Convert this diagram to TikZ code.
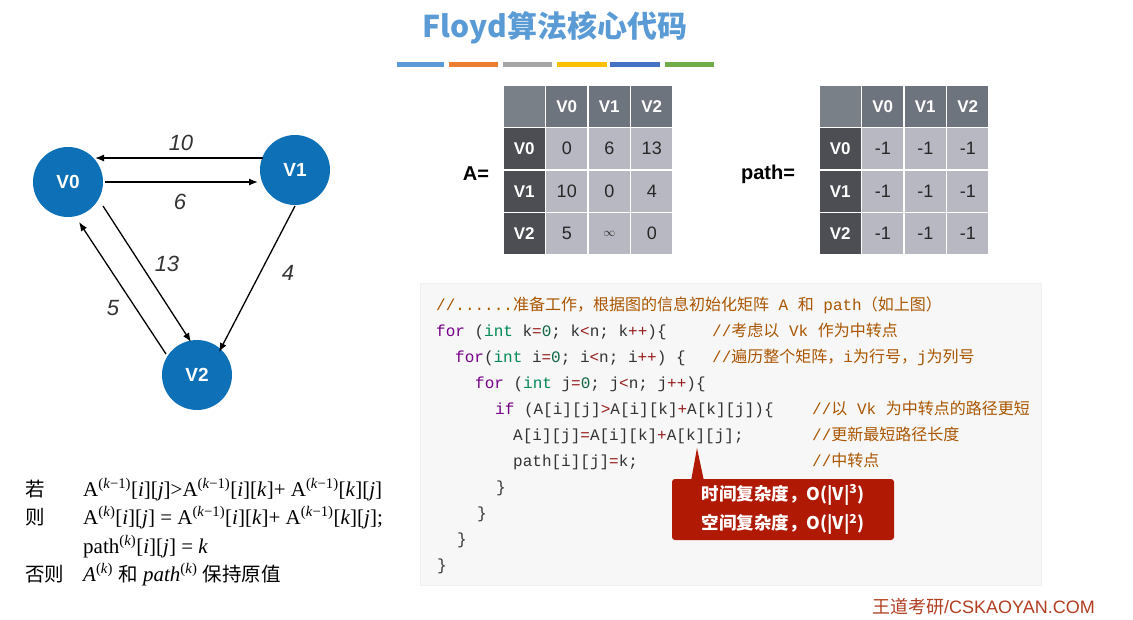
\documentclass[tikz,border=0pt]{standalone}
\usepackage{fontspec}
\setmainfont{Liberation Sans}
\newfontfamily\cjk{Noto Sans CJK SC}
\newfontfamily\mono{Liberation Mono}
\newfontfamily\serifrm{Liberation Serif}
\usetikzlibrary{arrows.meta,calc}
\definecolor{titleblue}{RGB}{91,155,213}
\definecolor{barA}{RGB}{91,155,213}
\definecolor{barB}{RGB}{237,125,49}
\definecolor{barC}{RGB}{165,165,165}
\definecolor{barD}{RGB}{255,192,0}
\definecolor{barE}{RGB}{68,114,196}
\definecolor{barF}{RGB}{112,173,71}
\definecolor{nodeblue}{RGB}{14,112,182}
\definecolor{cornerc}{RGB}{122,128,136}
\definecolor{hdrc}{RGB}{110,116,126}
\definecolor{rowc}{RGB}{76,78,84}
\definecolor{bodyc}{RGB}{184,184,195}
\definecolor{codebg}{RGB}{247,247,247}
\definecolor{codetx}{RGB}{51,51,51}
\definecolor{kwc}{RGB}{119,0,136}
\definecolor{tyc}{RGB}{0,136,85}
\definecolor{nmc}{RGB}{17,102,68}
\definecolor{opc}{RGB}{152,26,26}
\definecolor{cmt}{RGB}{170,85,0}
\definecolor{callred}{RGB}{176,26,4}
\definecolor{footc}{RGB}{178,62,34}
\newcommand\setfs[1]{\fontsize{#1}{#1}\selectfont}
\newcommand\zh[1]{{\cjk #1}}
\newcommand\kw[1]{\textcolor{kwc}{#1}}
\newcommand\ty[1]{\textcolor{tyc}{#1}}
\newcommand\nm[1]{\textcolor{nmc}{#1}}
\newcommand\op[1]{\textcolor{opc}{#1}}
\newcommand\sups[1]{\textsuperscript{(#1)}}
\tikzset{
  vert/.style={circle, fill=nodeblue, minimum size=70pt, inner sep=0pt, text=white, font=\bfseries\setfs{19}},
  arr/.style={draw=black, line width=1.3pt, -{Latex[length=9pt,width=7pt]}},
  elabel/.style={font=\itshape\setfs{22}, text=black!80},
  cellbase/.style={minimum width=41pt, minimum height=41pt, inner sep=0pt},
  ccell/.style={cellbase, fill=cornerc},
  hcell/.style={cellbase, fill=hdrc, text=white, font=\bfseries\setfs{17}},
  rcell/.style={cellbase, fill=rowc, text=white, font=\bfseries\setfs{17}},
  bcell/.style={cellbase, fill=bodyc, text=black!85, font=\setfs{18}},
  eqlabel/.style={font=\bfseries\setfs{20}, text=black},
  code/.style={anchor=base west, inner sep=0pt, font=\mono\setfs{16}, text=codetx},
  cmtline/.style={code, text=cmt},
  fml/.style={anchor=base west, inner sep=0pt, font=\serifrm\setfs{21}, text=black},
  fmlzh/.style={anchor=base west, inner sep=0pt, font=\cjk\setfs{19.5}, text=black},
}
\begin{document}
\begin{tikzpicture}[x=1pt,y=-1pt]
\useasboundingbox (0,0) rectangle (1133,619);
\fill[white] (0,0) rectangle (1133,619);

% title
\node[font=\cjk\bfseries\setfs{30}, text=titleblue] (title) at (555,28) {Floyd算法核心代码};
\fill[barA] (397,62) rectangle (444,67);
\fill[barB] (449,62) rectangle (498,67);
\fill[barC] (503,62) rectangle (552,67);
\fill[barD] (557,62) rectangle (607,67);
\fill[barE] (610,62) rectangle (660,67);
\fill[barF] (665,62) rectangle (714,67);

% graph
\node[vert] (V0) at (68,182) {V0};
\node[vert] (V1) at (295,170) {V1};
\node[vert] (V2) at (197,375) {V2};
\draw[arr] ($(V1)+(-32,-12)$) -- ($(V0)+(27,-24)$);
\draw[arr] ($(V0)+(37,0)$) -- ($(V1)+(-37,12)$);
\draw[arr] ($(V0)+(35,24)$) -- ($(V2)+(-6,-33)$);
\draw[arr] ($(V2)+(-31,-21)$) -- ($(V0)+(11,40)$);
\draw[arr] ($(V1)+(0,36)$) -- ($(V2)+(22,-23)$);
\node[elabel] (l10) at (181,143) {10};
\node[elabel] (l6) at (180,202) {6};
\node[elabel] (l13) at (167,264) {13};
\node[elabel] (l5) at (113,308) {5};
\node[elabel] (l4) at (288,273) {4};

% matrix A
\node[eqlabel] (Aeq) at (476,174) {A=};
\node[ccell] (A-00) at (524.25,106.25) {};
\foreach \lab [count=\i] in {V0,V1,V2} {
  \node[hcell] (A-h\i) at ({524.25+42.5*\i},106.25) {\lab};
  \node[rcell] (A-r\i) at (524.25,{106.25+42.5*\i}) {\lab};
}
\foreach \v [count=\k from 0] in {0,6,13,10,0,4,5,{{\setfs{13}$\infty$}},0} {
  \pgfmathtruncatemacro\rr{int(\k/3)+1}
  \pgfmathtruncatemacro\cc{mod(\k,3)+1}
  \node[bcell] (A-\rr-\cc) at ({524.25+42.5*\cc},{106.25+42.5*\rr}) {\v};
}

% matrix path
\node[eqlabel] (Peq) at (768,174) {path=};
\node[ccell] (P-00) at (840.25,106.25) {};
\foreach \lab [count=\i] in {V0,V1,V2} {
  \node[hcell] (P-h\i) at ({840.25+42.5*\i},106.25) {\lab};
  \node[rcell] (P-r\i) at (840.25,{106.25+42.5*\i}) {\lab};
}
\foreach \k in {0,...,8} {
  \pgfmathtruncatemacro\rr{int(\k/3)+1}
  \pgfmathtruncatemacro\cc{mod(\k,3)+1}
  \node[bcell] (P-\rr-\cc) at ({840.25+42.5*\cc},{106.25+42.5*\rr}) {-1};
}

% code block
\fill[codebg] (420,283) rectangle (1041,585);
\draw[black!6] (420,283) rectangle (1041,585);
\node[cmtline] (c1) at (436,310) {//......\zh{准备工作，根据图的信息初始化矩阵} A \zh{和} path\zh{（如上图）}};
\node[code] (c2) at (436,336) {\kw{for} (\ty{int} k\op{=}\nm{0}; k\op{<}n; k\op{++})\{};
\node[cmtline] (m2) at (712,336) {//\zh{考虑以} Vk \zh{作为中转点}};
\node[code] (c3) at (455,362) {\kw{for}(\ty{int} i\op{=}\nm{0}; i\op{<}n; i\op{++}) \{};
\node[cmtline] (m3) at (712,362) {//\zh{遍历整个矩阵，}i\zh{为行号，}j\zh{为列号}};
\node[code] (c4) at (475,388) {\kw{for} (\ty{int} j\op{=}\nm{0}; j\op{<}n; j\op{++})\{};
\node[code] (c5) at (495,414) {\kw{if} (A[i][j]\op{>}A[i][k]\op{+}A[k][j])\{};
\node[cmtline] (m5) at (812,414) {//\zh{以} Vk \zh{为中转点的路径更短}};
\node[code] (c6) at (513,440) {A[i][j]\op{=}A[i][k]\op{+}A[k][j];};
\node[cmtline] (m6) at (812,440) {//\zh{更新最短路径长度}};
\node[code] (c7) at (513,466) {path[i][j]\op{=}k;};
\node[cmtline] (m7) at (812,466) {//\zh{中转点}};
\node[code] (c8) at (496,492) {\}};
\node[code] (c9) at (477,518) {\}};
\node[code] (c10) at (457,544) {\}};
\node[code] (c11) at (437,570) {\}};

% callout
\fill[callred] (691,481) -- (697,448) -- (704,481) -- cycle;
\node[fill=callred, rounded corners=3pt, minimum width=222pt, minimum height=61pt, inner sep=0pt,
      text=white, font=\cjk\bfseries\setfs{17.5}, align=center] (call) at (783,509.5)
  {时间复杂度，O(|V|\textsuperscript{3})\\[8pt]空间复杂度，O(|V|\textsuperscript{2})};

% formula
\node[fmlzh] (f1a) at (25,496) {若};
\node[fml] (f1b) at (83,496) {A\sups{\textit{k}−1}[\textit{i}][\textit{j}]>A\sups{\textit{k}−1}[\textit{i}][\textit{k}]+ A\sups{\textit{k}−1}[\textit{k}][\textit{j}]};
\node[fmlzh] (f2a) at (25,524) {则};
\node[fml] (f2b) at (83,524) {A\sups{\textit{k}}[\textit{i}][\textit{j}] = A\sups{\textit{k}−1}[\textit{i}][\textit{k}]+ A\sups{\textit{k}−1}[\textit{k}][\textit{j}];};
\node[fml] (f3b) at (83,553) {path\sups{\textit{k}}[\textit{i}][\textit{j}] = \textit{k}};
\node[fmlzh] (f4a) at (25,581) {否则};
\node[fml] (f4b) at (83,581) {\textit{A}\sups{\textit{k}} {\cjk\setfs{19.5}和} \textit{path}\sups{\textit{k}} {\cjk\setfs{19.5}保持原值}};

% footer
\node[anchor=west, inner sep=0pt, font=\setfs{18}, text=footc] (foot) at (872,607) {\zh{王道考研}/CSKAOYAN.COM};
\end{tikzpicture}
\end{document}
